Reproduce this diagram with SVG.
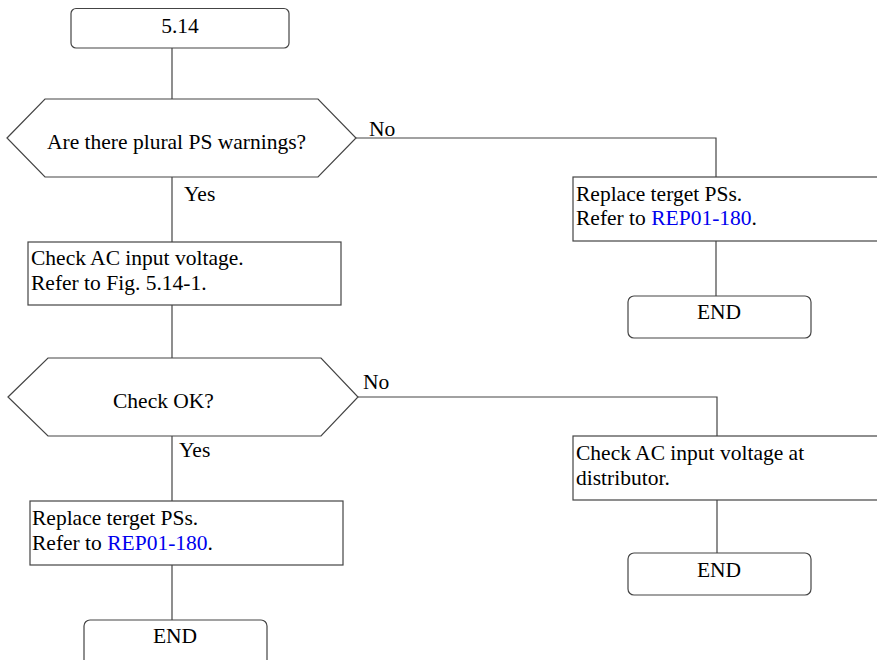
<svg xmlns="http://www.w3.org/2000/svg" width="877" height="660" viewBox="0 0 877 660">
<style>
.shape{fill:#fff;stroke:#444;stroke-width:1.2}
.conn{fill:none;stroke:#444;stroke-width:1.2}
text{font-family:"Liberation Serif","Times New Roman",serif;font-size:21.5px;fill:#000}
.link{fill:#0000ee}
.c{text-anchor:middle}
</style>
<rect width="877" height="660" fill="#fff"/>
<g id="connectors">
<path class="conn" d="M172,48V99"/>
<path class="conn" d="M356,138H716V177"/>
<path class="conn" d="M172,177V242"/>
<path class="conn" d="M716,241V296"/>
<path class="conn" d="M172,305V358"/>
<path class="conn" d="M358,397H717V436"/>
<path class="conn" d="M172,436V501"/>
<path class="conn" d="M717,500V553"/>
<path class="conn" d="M172,565V620"/>
<text x="369" y="136">No</text>
<text x="184" y="201">Yes</text>
<text x="363" y="389">No</text>
<text x="179" y="457">Yes</text>
</g>
<g id="start">
<rect class="shape" x="71" y="8.5" width="218" height="39.5" rx="5"/>
<text class="c" x="180" y="33">5.14</text>
</g>
<g id="decision1">
<polygon class="shape" points="7,138 45,99 318,99 356,138 318,177 45,177"/>
<text x="47" y="148.5">Are there plural PS warnings?</text>
</g>
<g id="replace1">
<rect class="shape" x="573" y="177" width="320" height="64"/>
<text x="576" y="201">Replace terget PSs.</text>
<text x="576" y="225">Refer to <tspan class="link">REP01-180</tspan>.</text>
</g>
<g id="end1">
<rect class="shape" x="628" y="296" width="183" height="42" rx="6"/>
<text class="c" x="719" y="319">END</text>
</g>
<g id="checkac">
<rect class="shape" x="28" y="242" width="313" height="63"/>
<text x="31" y="265">Check AC input voltage.</text>
<text x="31" y="290">Refer to Fig. 5.14-1.</text>
</g>
<g id="decision2">
<polygon class="shape" points="8,397 48,358 321,358 358,397 321,436 48,436"/>
<text x="113" y="408">Check OK?</text>
</g>
<g id="checkdist">
<rect class="shape" x="573" y="436" width="320" height="64"/>
<text x="576" y="460">Check AC input voltage at</text>
<text x="576" y="485">distributor.</text>
</g>
<g id="end2">
<rect class="shape" x="628" y="553" width="183" height="42" rx="6"/>
<text class="c" x="719" y="577">END</text>
</g>
<g id="replace2">
<rect class="shape" x="30" y="501" width="313" height="64"/>
<text x="32" y="525">Replace terget PSs.</text>
<text x="32" y="550">Refer to <tspan class="link">REP01-180</tspan>.</text>
</g>
<g id="end3">
<rect class="shape" x="84" y="620" width="183" height="50" rx="6"/>
<text class="c" x="175" y="643">END</text>
</g>
</svg>
